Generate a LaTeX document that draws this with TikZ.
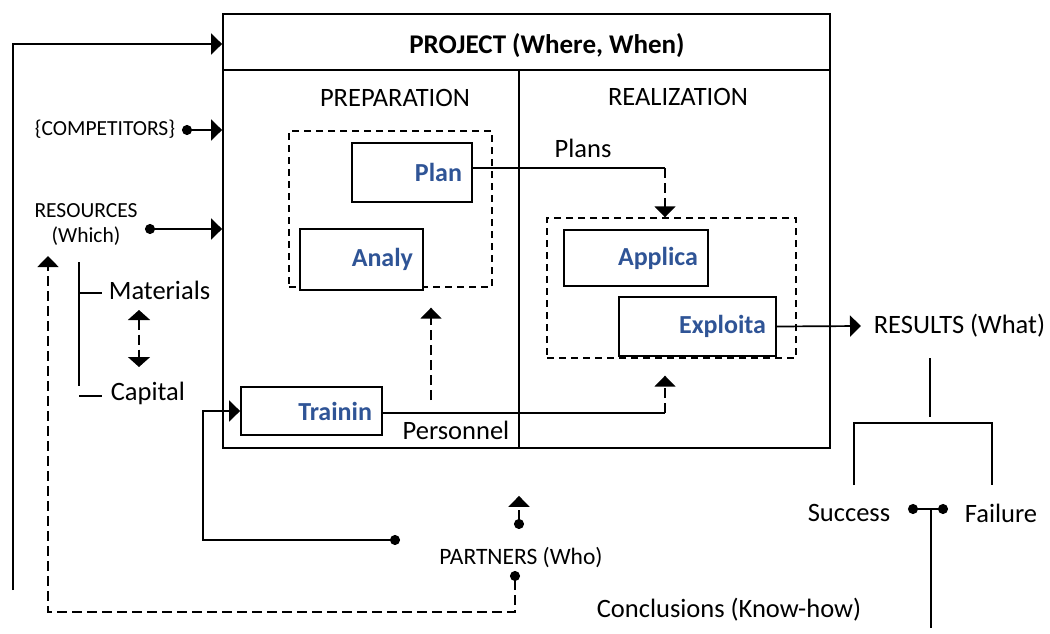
\documentclass[tikz,border=0pt]{standalone}
\usepackage{fontspec}
\setmainfont{Carlito}
\usetikzlibrary{arrows.meta,calc}
\definecolor{labelblue}{RGB}{47,84,150}
\begin{document}
\begin{tikzpicture}[x=1pt,y=-1pt,line width=1.7pt,
  tip/.style={-{Triangle[length=11pt,width=21pt]}},
  dotarrow/.style={{Circle[length=10pt]}-{Triangle[length=11pt,width=21pt]}},
  bothtips/.style={{Triangle[length=10pt,width=22pt]}-{Triangle[length=10pt,width=22pt]}},
  dotdot/.style={{Circle[length=10pt]}-{Circle[length=10pt]}},
  dline/.style={dash pattern=on 10pt off 5pt},
  grp/.style={draw,line width=1.4pt,dash pattern=on 7pt off 5pt,inner sep=0pt},
  frame/.style={draw,line width=1.8pt,inner sep=0pt},
  actbox/.style={draw,line width=1.8pt,fill=white,text=labelblue,
    font=\bfseries\fontsize{26}{30}\selectfont,align=right,inner xsep=10pt,inner ysep=0pt},
  txt/.style={inner sep=0pt,font=\fontsize{26.5}{31}\selectfont},
  small/.style={inner sep=0pt,font=\fontsize{21.5}{25}\selectfont},
  ttl/.style={inner sep=0pt,font=\bfseries\fontsize{27}{31}\selectfont}]
\useasboundingbox (0,0) rectangle (1050,634);

% project frame with header and the two phases
\node[frame,minimum width=607pt,minimum height=434pt] (project) at (526.5,231) {};
\draw[line width=1.6pt] (223,70) -- (830,70);
\draw[line width=1.6pt] (519,70) -- (519,448);
\node[ttl] (title) at (547,46) {PROJECT (Where, When)};
\node[txt] (prep) at (395,98) {PREPARATION};
\node[txt] (real) at (678,97) {REALIZATION};

% activity groups
\node[grp,minimum width=203pt,minimum height=156pt] (prepgrp) at (390.5,209) {};
\node[grp,minimum width=249pt,minimum height=140pt] (realgrp) at (671.5,288) {};

% activities
\node[actbox,text width=100pt,minimum height=59pt] (plan) at (412,172.5) {Plan};
\node[actbox,text width=103pt,minimum height=61pt] (analy) at (361.5,259.5) {Analy};
\node[actbox,text width=124pt,minimum height=56pt] (applica) at (636,258) {Applica};
\node[actbox,text width=137pt,minimum height=59pt] (exploita) at (697.5,326.5) {Exploita};
\node[actbox,text width=121pt,minimum height=48pt] (trainin) at (311.5,411) {Trainin};

% flows inside the project
\node[txt] (plans) at (583,148) {Plans};
\coordinate (planturn) at (665,168);
\draw (plan.east |- planturn) -- (planturn);
\draw[dline,tip] (planturn) -- (planturn |- realgrp.north);

\node[txt] (personnel) at (456,430) {Personnel};
\coordinate (persturn) at (665,413);
\draw (trainin.east |- persturn) -- (persturn);
\draw[dline,tip] (persturn) -- ($(persturn |- realgrp.south)+(0,17)$);
\coordinate (analyup) at (431,400);
\draw[dline,tip] (analyup) -- ($(analyup |- prepgrp.south)+(0,20)$);

% inputs on the left
\coordinate (loopbot) at (13,590);
\coordinate (loopin) at (13,44);
\draw[tip] (loopbot) -- (loopin) -- (loopin -| project.west);

\node[small] (comp) at (105,129) {\{COMPETITORS\}};
\coordinate (compdot) at (182,130);
\draw[dotarrow] (compdot) -- (compdot -| project.west);

\node[small,align=center] (res) at (86,225) {RESOURCES\\(Which)};
\coordinate (resdot) at (145,229);
\draw[dotarrow] (resdot) -- (resdot -| project.west);

\node[txt,anchor=west] (mat) at (108,290) {Materials};
\node[txt,anchor=west] (cap) at (110,393) {Capital};
\draw[line width=1.5pt] (79,262) -- (79,386);
\draw[line width=1.5pt] (79,293) -- ($(mat.west |- 0,293)+(-6,0)$);
\draw[line width=1.5pt] (79,396) -- ($(cap.west |- 0,396)+(-8,0)$);
\coordinate (matlow) at (139,310);
\coordinate (caphigh) at (139,367);
\draw[dline,bothtips] (matlow) -- (caphigh);

% partners
\node[small,font=\fontsize{23.5}{28}\selectfont] (partners) at (521,558) {PARTNERS (Who)};
\coordinate (pupdot) at (519,529);
\draw[dline,dotarrow] (pupdot) -- ($(pupdot |- project.south)+(0,47)$);
\coordinate (tdot) at (400,540);
\draw[dotarrow] (tdot) -- (203,540) |- (trainin.west);
\coordinate (pdowndot) at (515,571);
\coordinate (feedin) at (48,256);
\draw[dline,dotarrow] (pdowndot) -- (515,612) -| (feedin);

% results
\node[txt,anchor=west] (results) at (873,326) {RESULTS (What)};
\draw[tip] (exploita.east) -- ($(results.west)+(-12,0)$);
\draw[line width=1.5pt] (930,358) -- (930,417);
\draw[line width=1.5pt] (854,485) -- (854,423) -- (992,423) -- (992,485);
\node[txt] (success) at (849,513) {Success};
\node[txt] (failure) at (1001,513) {Failure};
\coordinate (sdot) at (908,509);
\coordinate (fdot) at (948,509);
\draw[line width=1.5pt,dotdot] (sdot) -- (fdot);
\draw[line width=1.5pt] (931,510) -- (931,628);
\node[txt] (concl) at (729,610) {Conclusions (Know-how)};
\end{tikzpicture}
\end{document}
